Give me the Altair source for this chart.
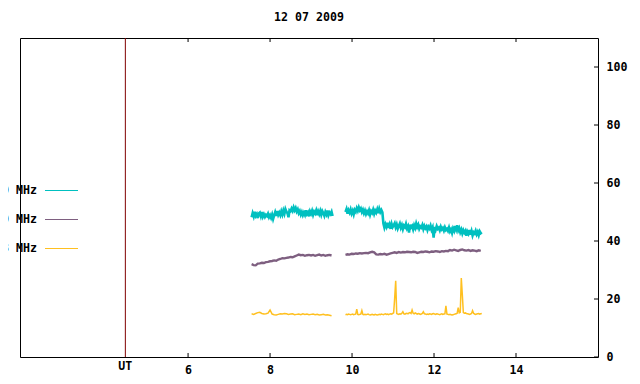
import altair as alt
import numpy as np
import pandas as pd

# ---------------- data ----------------
title_text = "12 07 2009"
series_labels = ["00 MHz", "80 MHz", "03 MHz"]
series_colors = ["#00c0c0", "#7e5f80", "#ffc020"]
series_widths = [2.6, 2.4, 1.5]

x_ticks = [6, 8, 10, 12, 14]
y_ticks = [0, 20, 40, 60, 80, 100]
ut_hour = 4.47

# segment start hours and sample steps
cyan_starts = [7.55, 9.84]
cyan_step = 0.025
purple_starts = [7.55, 9.84]
purple_step = 0.05
yellow_starts = [7.55, 9.84]
yellow_steps = [0.05, 0.025]

cyan_seg1 = [
    48.2, 49.6, 48.5, 50.1, 48.7, 49.3, 47.9, 49.5,
    49.8, 48.6, 50.0, 48.4, 49.2, 48.3, 49.0, 48.6, 49.4, 48.2,
    48.9, 48.0, 49.1, 47.6, 48.8, 49.9, 48.7, 50.3, 49.0, 49.8,
    48.9, 50.2, 49.1, 50.5, 49.4, 51.0, 50.1, 49.6, 48.2, 50.6,
    50.3, 51.2, 50.4, 51.6, 50.6, 51.4, 50.2, 50.9, 49.6, 50.3,
    49.1, 50.0, 48.9, 49.8, 49.0, 50.6, 49.3, 49.9, 48.5, 50.2,
    49.4, 50.4, 49.0, 50.1, 49.5, 50.5, 48.9, 50.2, 49.3, 50.4,
    49.1, 50.3, 49.6, 48.7, 50.0, 49.2, 50.5, 48.9, 49.8, 49.3, 50.1, 48.6,
]
cyan_seg2 = [
    50.0, 51.0, 49.4, 50.6, 49.8, 50.9, 49.5, 50.4, 49.2, 50.7,
    50.1, 51.3, 50.4, 51.6, 50.6, 51.2, 50.0, 50.8, 49.6, 50.5,
    49.3, 50.2, 49.5, 50.6, 49.1, 50.3, 49.7, 50.8, 49.4, 50.5,
    49.8, 50.9, 49.6, 51.1, 50.0, 50.7, 49.9,
    46.0, 44.6, 45.8, 44.9, 46.3, 44.5, 45.6, 44.2, 45.9, 44.8,
    45.4, 46.1, 44.7, 45.7, 44.3, 45.2, 46.0, 44.6, 45.5, 44.1,
    45.3, 44.8, 45.9, 44.4, 45.1, 42.9, 45.6, 44.7, 45.2, 44.0,
    45.4, 44.5, 46.0, 44.8, 45.6, 44.2, 45.0, 44.6, 45.5, 44.1,
    45.2, 44.4, 45.0, 43.8, 44.9, 44.3, 45.3, 43.9, 44.7, 41.2,
    44.8, 43.9, 45.1, 44.2, 44.6, 43.7, 44.9, 44.0, 44.5, 43.6,
    44.7, 43.8, 44.2, 43.5, 44.6, 43.3, 44.0, 42.8, 44.3, 43.5,
    45.2, 44.0, 45.4, 43.6, 44.4, 43.0, 43.9, 42.6, 43.7, 42.9,
    43.5, 41.8, 43.2, 42.5, 43.8, 42.2, 43.4, 41.9, 43.0, 42.6,
    43.5, 42.3, 43.1, 42.0, 43.3, 42.7, 43.0,
]
purple_seg1 = [
    32.0, 31.7, 31.6, 32.2, 32.3, 32.5, 32.4, 32.7, 32.8, 33.0,
    33.1, 33.3, 33.2, 33.6, 33.8, 34.1, 34.0, 34.2, 34.3, 34.5,
    34.4, 34.7, 35.0, 35.3, 35.1, 35.2, 34.9, 35.1, 35.2, 35.0,
    35.2, 34.9, 35.1, 35.3, 35.0, 35.2, 34.9, 35.1, 35.2, 35.0,
]
purple_seg2 = [
    35.2, 35.4, 35.3, 35.6, 35.5, 35.7, 35.6, 35.8, 35.7, 35.8,
    35.9, 35.8, 36.1, 36.3, 36.1, 35.4, 35.3, 35.5, 35.4, 35.6,
    35.3, 35.5, 35.7, 35.9, 36.1, 35.9, 36.2, 36.0, 36.2, 36.1,
    36.3, 36.2, 36.1, 36.3, 36.2, 35.9, 36.1, 36.3, 36.2, 36.4,
    36.3, 36.1, 36.4, 36.3, 36.5, 36.4, 36.2, 36.5, 36.4, 36.6,
    36.5, 36.9, 36.7, 37.0, 36.8, 36.6, 36.9, 37.1, 36.8, 36.7,
    36.9, 36.6, 36.8, 36.7, 36.5, 36.8, 36.6,
]
yellow_seg1 = [
    14.9, 14.7, 15.0, 15.3, 15.4, 15.0, 14.8, 14.9, 15.1, 16.2,
    14.8, 14.6, 14.5, 14.7, 14.9, 14.8, 15.0, 14.9, 14.7, 14.8,
    14.9, 14.6, 14.7, 14.8, 14.6, 14.9, 14.7, 14.8, 14.6, 14.7,
    14.8, 14.6, 14.7, 14.5, 14.6, 14.7, 14.5, 14.6, 14.4, 14.2,
]
yellow_seg2 = [
    14.6, 14.7, 14.6, 14.8, 14.7, 14.6, 14.7, 14.8, 14.6, 14.7,
    14.8, 16.5, 14.7, 14.6, 14.7, 14.8, 16.0, 14.7, 14.6, 14.7,
    14.6, 14.7, 14.8, 14.6, 14.5, 14.6, 14.7, 14.6, 14.5, 14.7,
    14.6, 14.5, 14.6, 14.7, 14.6, 14.8, 14.7, 14.6, 14.8, 14.9,
    14.7, 14.8, 14.6, 14.8, 14.9, 14.8, 15.0, 15.2, 20.3, 26.3,
    15.0, 14.8, 14.7, 14.9, 14.8, 15.1, 15.6, 14.9, 14.8, 15.0,
    15.1, 14.9, 15.2, 15.3, 15.0, 16.2, 15.1, 14.9, 15.2, 15.0,
    14.8, 15.0, 14.9, 14.7, 14.8, 15.0, 15.6, 14.9, 14.8, 14.7,
    14.8, 14.7, 14.9, 14.8, 14.7, 14.9, 15.0, 14.8, 14.7, 14.9,
    14.8, 14.7, 14.6, 14.8, 14.9, 14.7, 14.8, 14.9, 17.6, 14.8,
    14.7, 14.6, 14.7, 14.6, 14.5, 14.6, 14.7, 14.8, 14.9, 15.1,
    17.0, 15.2, 15.4, 27.2, 21.5, 15.3, 15.1, 15.2, 15.0, 14.9,
    14.8, 14.7, 14.8, 15.0, 16.0, 15.1, 14.8, 14.7, 14.8, 14.9,
    15.0, 14.8, 14.9, 15.0,
]

# ---------------- build table ----------------
def make(series, segs):
    rows = []
    for k, (start, step, vals) in enumerate(segs):
        for i, v in enumerate(vals):
            rows.append({"hour": start + step * i, "value": v, "series": series, "seg": f"{series}-{k}"})
    return pd.DataFrame(rows)

frames = [
    make(series_labels[0], [(cyan_starts[0], cyan_step, cyan_seg1), (cyan_starts[1], cyan_step, cyan_seg2)]),
    make(series_labels[1], [(purple_starts[0], purple_step, purple_seg1), (purple_starts[1], purple_step, purple_seg2)]),
    make(series_labels[2], [(yellow_starts[0], yellow_steps[0], yellow_seg1), (yellow_starts[1], yellow_steps[1], yellow_seg2)]),
]

W, H = 578, 319
FONT = "DejaVu Sans Mono"
FS = 11.6

xscale = alt.Scale(domain=[1.9, 16.0], nice=False, zero=False)
yscale = alt.Scale(domain=[0, 110], nice=False, zero=True)

xaxis = alt.Axis(
    orient="bottom", values=x_ticks, ticks=False, tickSize=0, domain=False, grid=False,
    labelFont=FONT, labelFontSize=FS, labelFontWeight="bold", labelColor="black",
    labelPadding=7, title=None)
yaxis = alt.Axis(
    orient="right", values=y_ticks, ticks=False, tickSize=0, domain=False, grid=False,
    labelFont=FONT, labelFontSize=FS, labelFontWeight="bold", labelColor="black",
    labelPadding=8, labelAlign="left", labelBaseline="middle", title=None)

line_layers = []
for fr, col, sw in zip(frames, series_colors, series_widths):
    line_layers.append(alt.Chart(fr).mark_line(strokeWidth=sw, color=col, clip=True).encode(
        x=alt.X("hour:Q", scale=xscale, axis=xaxis),
        y=alt.Y("value:Q", scale=yscale, axis=yaxis),
        detail="seg:N",
        order="hour:Q",
    ))

xt = pd.DataFrame({"hour": x_ticks})
yt = pd.DataFrame({"value": y_ticks})
bottom_ticks = alt.Chart(xt).mark_rule(color="black").encode(
    x=alt.X("hour:Q", scale=xscale, axis=xaxis), y=alt.value(H), y2=alt.value(H - 4))
top_ticks = alt.Chart(xt).mark_rule(color="black").encode(
    x=alt.X("hour:Q", scale=xscale, axis=xaxis), y=alt.value(0), y2=alt.value(4))
right_ticks = alt.Chart(yt).mark_rule(color="black").encode(
    y=alt.Y("value:Q", scale=yscale, axis=yaxis), x=alt.value(W - 4), x2=alt.value(W))

ut = pd.DataFrame({"hour": [ut_hour], "lab": ["UT"]})
ut_line = alt.Chart(ut).mark_rule(color="#800000", strokeWidth=1).encode(
    x=alt.X("hour:Q", scale=xscale, axis=xaxis), y=alt.value(0), y2=alt.value(H))
ut_text = alt.Chart(ut).mark_text(font=FONT, fontSize=FS, fontWeight="bold", color="black",
                                  baseline="middle", align="center").encode(
    x=alt.X("hour:Q", scale=xscale, axis=xaxis), y=alt.value(H + 10), text="lab:N")

one = pd.DataFrame({"a": [0]})
title = alt.Chart(one).mark_text(font=FONT, fontSize=FS, fontWeight="bold", color="black",
                                 baseline="middle", align="center").encode(
    x=alt.value(W / 2), y=alt.value(-20), text=alt.value(title_text))

legend_layers = []
for i, (lab, col) in enumerate(zip(series_labels, series_colors)):
    yy = 152.5 + 29 * i
    legend_layers.append(alt.Chart(one).mark_rule(color=col, strokeWidth=1).encode(
        x=alt.value(25), x2=alt.value(58), y=alt.value(yy)))
    legend_layers.append(alt.Chart(one).mark_text(font=FONT, fontSize=FS, fontWeight="bold", color="black",
                                                  baseline="middle", align="right").encode(
        x=alt.value(17), y=alt.value(yy), text=alt.value(lab)))

chart = alt.layer(*line_layers, bottom_ticks, top_ticks, right_ticks, ut_line, ut_text, title, *legend_layers).properties(
    width=W, height=H,
    padding={"left": 12, "top": 30, "right": 34, "bottom": 19},
    autosize=alt.AutoSizeParams(type="none"),
    background="white",
).configure_view(stroke="black", strokeWidth=1)

chart.save("out.html", embed_options={"renderer": "svg", "actions": False})
